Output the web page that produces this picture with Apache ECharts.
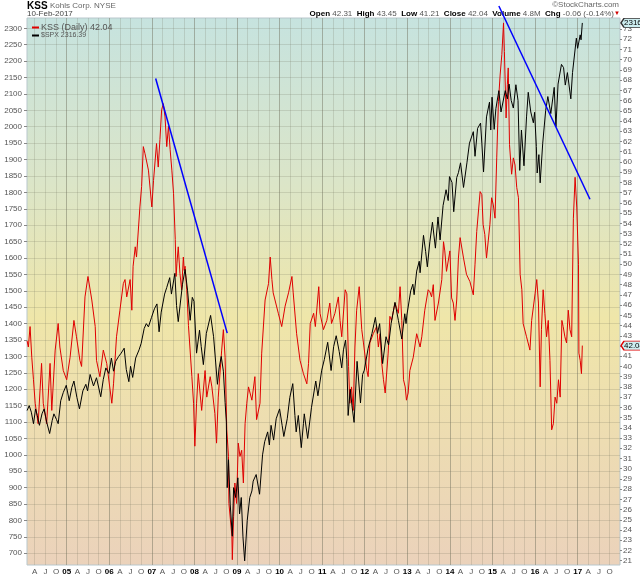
<!DOCTYPE html>
<html>
<head>
<meta charset="utf-8">
<script src="https://cdn.jsdelivr.net/npm/echarts@6/dist/echarts.min.js"></script>
<style>
html, body { margin: 0; padding: 0; background: #fff; }
#chart { width: 640px; height: 576px; }
</style>
</head>
<body>
<div id="chart"></div>
<script>
// time is in decimal years, KSS on the right scale, $SPX on the left
const kss = [
  [2004.07,42.5],[2004.10,41.9],[2004.14,43.9],[2004.18,40.9],[2004.22,38.7],[2004.26,36.4],[2004.33,34.4],
  [2004.41,40.3],[2004.45,36.4],[2004.53,34.4],[2004.61,40.3],[2004.65,35.7],[2004.73,41.6],[2004.80,44.2],
  [2004.84,41.9],[2004.92,39.6],[2005.00,38.7],[2005.08,40.9],[2005.17,44.5],[2005.23,42.9],[2005.31,40.6],
  [2005.35,40.0],[2005.43,46.8],[2005.50,48.8],[2005.59,46.5],[2005.67,43.9],[2005.70,40.6],[2005.78,39.0],
  [2005.86,41.6],[2005.94,40.3],[2006.02,37.7],[2006.06,36.4],[2006.10,38.3],[2006.17,42.9],[2006.25,45.5],
  [2006.33,48.1],[2006.37,48.5],[2006.41,46.8],[2006.49,48.5],[2006.53,45.5],[2006.56,49.8],[2006.61,51.7],
  [2006.64,50.7],[2006.72,55.6],[2006.76,57.6],[2006.80,61.5],[2006.84,60.8],[2006.92,59.2],[2007.00,55.6],
  [2007.04,58.2],[2007.11,61.8],[2007.15,59.5],[2007.19,62.2],[2007.23,65.1],[2007.27,65.7],[2007.31,64.4],
  [2007.35,61.5],[2007.39,63.5],[2007.43,61.2],[2007.47,59.2],[2007.51,56.9],[2007.55,52.4],[2007.57,48.8],
  [2007.59,50.1],[2007.62,51.7],[2007.66,49.1],[2007.70,47.5],[2007.74,50.7],[2007.76,49.4],[2007.78,49.8],
  [2007.82,47.5],[2007.86,44.0],[2007.94,39.0],[2007.98,36.4],[2008.01,32.2],[2008.05,36.4],[2008.09,39.3],
  [2008.17,35.7],[2008.25,39.6],[2008.29,37.0],[2008.37,39.0],[2008.41,38.0],[2008.48,35.4],[2008.52,32.5],
  [2008.56,37.0],[2008.64,41.6],[2008.68,43.6],[2008.72,40.9],[2008.76,33.8],[2008.80,31.2],[2008.81,26.6],
  [2008.88,23.4],[2008.89,21.1],[2008.92,25.3],[2008.95,28.6],[2008.99,26.6],[2009.03,32.5],[2009.07,31.2],
  [2009.11,31.8],[2009.15,28.6],[2009.19,34.4],[2009.23,36.4],[2009.27,38.0],[2009.35,36.7],[2009.42,39.0],
  [2009.46,34.8],[2009.54,36.4],[2009.58,41.3],[2009.66,46.5],[2009.74,48.1],[2009.78,50.7],[2009.82,48.5],
  [2009.85,47.2],[2009.97,45.2],[2010.05,43.9],[2010.13,45.9],[2010.21,47.2],[2010.29,48.8],[2010.32,47.2],
  [2010.40,43.2],[2010.48,40.6],[2010.56,39.3],[2010.64,38.3],[2010.68,40.3],[2010.72,44.2],[2010.80,45.2],
  [2010.84,43.9],[2010.92,47.8],[2010.95,45.2],[2011.03,43.6],[2011.11,44.5],[2011.18,46.2],[2011.22,44.2],
  [2011.30,45.2],[2011.38,46.8],[2011.42,44.5],[2011.46,42.9],[2011.54,47.5],[2011.58,47.1],[2011.62,40.0],
  [2011.65,36.4],[2011.69,38.0],[2011.73,35.7],[2011.77,41.9],[2011.81,45.5],[2011.87,47.8],[2011.93,43.6],
  [2011.97,42.3],[2012.05,39.6],[2012.08,39.0],[2012.12,42.3],[2012.20,43.2],[2012.28,43.9],[2012.32,41.9],
  [2012.36,43.2],[2012.40,40.3],[2012.44,38.7],[2012.48,37.4],[2012.55,41.3],[2012.59,44.9],[2012.63,44.5],
  [2012.71,46.2],[2012.79,45.2],[2012.83,47.8],[2012.87,44.5],[2012.91,38.7],[2012.95,38.0],[2012.98,36.7],
  [2013.02,37.4],[2013.06,39.6],[2013.14,40.9],[2013.22,43.2],[2013.30,41.9],[2013.34,42.9],[2013.41,45.5],
  [2013.49,47.5],[2013.53,47.3],[2013.57,46.8],[2013.61,48.0],[2013.65,44.5],[2013.73,46.2],[2013.81,48.5],
  [2013.85,52.2],[2013.88,51.3],[2013.92,49.3],[2014.00,51.3],[2014.04,46.7],[2014.08,46.2],[2014.12,44.5],
  [2014.16,46.5],[2014.20,50.6],[2014.24,52.6],[2014.32,50.6],[2014.39,49.0],[2014.47,48.3],[2014.55,47.0],
  [2014.59,50.0],[2014.63,53.2],[2014.71,57.1],[2014.75,56.8],[2014.78,53.9],[2014.82,52.9],[2014.86,50.6],
  [2014.94,53.9],[2014.98,56.5],[2015.02,55.8],[2015.06,54.5],[2015.10,60.4],[2015.14,65.9],[2015.18,68.5],
  [2015.22,70.5],[2015.26,73.6],[2015.28,70.8],[2015.32,64.3],[2015.35,67.6],[2015.37,69.2],[2015.40,61.7],
  [2015.45,58.8],[2015.49,60.4],[2015.53,59.7],[2015.57,57.5],[2015.61,56.5],[2015.65,49.0],[2015.69,47.5],
  [2015.72,44.2],[2015.80,42.9],[2015.88,41.6],[2015.92,44.5],[2016.00,47.1],[2016.04,48.5],[2016.08,46.2],
  [2016.12,38.0],[2016.15,43.6],[2016.19,47.5],[2016.23,45.2],[2016.27,42.9],[2016.31,44.5],[2016.35,40.6],
  [2016.39,33.8],[2016.43,34.4],[2016.47,37.0],[2016.51,36.4],[2016.55,38.7],[2016.59,37.0],[2016.63,44.5],
  [2016.66,43.9],[2016.70,42.9],[2016.74,42.3],[2016.78,45.5],[2016.82,43.6],[2016.86,42.9],[2016.90,54.5],
  [2016.94,58.5],[2016.98,55.5],[2017.02,50.0],[2017.03,41.3],[2017.06,40.6],[2017.09,39.3],[2017.11,42.04]
];

const spx = [
  [2004.07,1135],[2004.12,1150],[2004.17,1130],[2004.22,1095],[2004.27,1140],[2004.31,1120],[2004.36,1090],
  [2004.42,1125],[2004.47,1140],[2004.53,1100],[2004.60,1065],[2004.66,1105],[2004.70,1125],[2004.76,1108],
  [2004.80,1095],[2004.86,1165],[2004.92,1190],[2004.99,1212],[2005.06,1165],[2005.12,1205],[2005.17,1225],
  [2005.24,1175],[2005.30,1140],[2005.38,1195],[2005.45,1215],[2005.49,1195],[2005.55,1245],[2005.63,1210],
  [2005.70,1235],[2005.80,1177],[2005.86,1230],[2005.92,1265],[2005.99,1248],[2006.05,1295],[2006.10,1255],
  [2006.15,1285],[2006.22,1300],[2006.28,1310],[2006.35,1325],[2006.40,1260],[2006.46,1223],[2006.50,1270],
  [2006.55,1236],[2006.62,1295],[2006.70,1320],[2006.75,1340],[2006.82,1385],[2006.87,1400],[2006.92,1390],
  [2006.99,1418],[2007.06,1445],[2007.12,1460],[2007.17,1375],[2007.22,1435],[2007.30,1490],[2007.35,1510],
  [2007.42,1540],[2007.46,1490],[2007.54,1553],[2007.58,1455],[2007.62,1406],[2007.68,1475],[2007.72,1520],
  [2007.78,1565],[2007.84,1500],[2007.90,1410],[2007.95,1480],[2007.99,1468],[2008.05,1310],[2008.12,1380],
  [2008.16,1330],[2008.21,1275],[2008.28,1370],[2008.38,1425],[2008.45,1360],[2008.50,1280],[2008.54,1215],
  [2008.58,1265],[2008.63,1300],[2008.68,1255],[2008.72,1160],[2008.75,1100],[2008.77,900],[2008.80,985],
  [2008.84,850],[2008.89,752],[2008.92,900],[2008.97,870],[2009.02,930],[2009.06,820],[2009.10,870],
  [2009.14,750],[2009.18,677],[2009.24,800],[2009.30,870],[2009.35,890],[2009.38,920],[2009.45,940],
  [2009.53,880],[2009.60,1000],[2009.65,1040],[2009.72,1070],[2009.76,1030],[2009.80,1090],[2009.86,1045],
  [2009.92,1110],[2010.00,1140],[2010.06,1090],[2010.10,1056],[2010.18,1110],[2010.24,1175],[2010.31,1217],
  [2010.36,1120],[2010.39,1070],[2010.44,1120],[2010.51,1022],[2010.56,1095],[2010.58,1125],[2010.66,1050],
  [2010.75,1145],[2010.85,1225],[2010.90,1180],[2010.99,1258],[2011.05,1290],[2011.13,1343],[2011.21,1257],
  [2011.27,1330],[2011.33,1363],[2011.40,1315],[2011.46,1265],[2011.50,1320],[2011.55,1350],[2011.58,1290],
  [2011.61,1120],[2011.66,1200],[2011.70,1150],[2011.75,1099],[2011.82,1285],[2011.90,1158],[2011.95,1245],
  [2011.99,1258],[2012.08,1325],[2012.17,1370],[2012.25,1419],[2012.30,1370],[2012.35,1400],[2012.42,1278],
  [2012.50,1360],[2012.56,1335],[2012.62,1400],[2012.71,1465],[2012.79,1410],[2012.87,1353],[2012.94,1430],
  [2012.97,1400],[2012.99,1426],[2013.08,1500],[2013.13,1520],[2013.16,1488],[2013.22,1560],[2013.28,1590],
  [2013.30,1555],[2013.38,1669],[2013.43,1620],[2013.47,1573],[2013.53,1650],[2013.59,1709],[2013.66,1630],
  [2013.72,1725],[2013.77,1655],[2013.84,1760],[2013.91,1808],[2013.96,1775],[2013.99,1848],[2014.05,1830],
  [2014.09,1741],[2014.16,1845],[2014.20,1860],[2014.25,1890],[2014.32,1815],[2014.40,1890],[2014.46,1950],
  [2014.55,1985],[2014.59,1910],[2014.65,1995],[2014.72,2011],[2014.75,1950],[2014.79,1862],[2014.86,2030],
  [2014.93,2075],[2014.96,1990],[2014.99,2090],[2015.04,1992],[2015.08,2055],[2015.15,2110],[2015.20,2045],
  [2015.24,2040],[2015.30,2110],[2015.35,2085],[2015.39,2130],[2015.44,2080],[2015.49,2057],[2015.55,2128],
  [2015.60,2080],[2015.64,1867],[2015.68,1990],[2015.74,1881],[2015.80,2030],[2015.84,2105],[2015.90,2045],
  [2015.96,2012],[2015.99,2044],[2016.03,1940],[2016.05,1859],[2016.09,1915],[2016.12,1829],[2016.18,1950],
  [2016.25,2050],[2016.30,2092],[2016.37,2040],[2016.45,2120],[2016.49,2000],[2016.54,2130],[2016.62,2190],
  [2016.67,2180],[2016.71,2127],[2016.76,2165],[2016.84,2085],[2016.88,2165],[2016.97,2270],[2017.00,2239],
  [2017.06,2280],[2017.08,2265],[2017.11,2316.39]
];

// hand drawn trend lines, in $SPX units
const trend1 = [[2007.09, 2147], [2008.77, 1371]];
const trend2 = [[2015.15, 2368], [2017.29, 1779]];

const kssLast = 42.04;
const spxLast = 2316.39;

function range(a, b, step) {
  const out = [];
  for (let v = a; v <= b + 1e-9; v += step) out.push(+v.toFixed(2));
  return out;
}
const spxTicks = range(700, 2300, 50);
const kssTicks = range(21, 73, 1);
const quarterTicks = range(2004.25, 2017.75, 0.25);
const yearTicks = range(2005, 2017, 1);
const quarterNames = ['', 'A', 'J', 'O'];

const X_MIN = 2004.068, X_MAX = 2017.995;

const chart = echarts.init(document.getElementById('chart'));

const gridColor = 'rgba(110,110,90,0.2)';
const labelColor = '#555';
const font = 'Liberation Sans';

const tagShape = 'path://M0,5 L5,0 L40,0 L40,10 L5,10 Z';

const option = {
  animation: false,
  textStyle: { fontFamily: font },
  grid: {
    left: 27, right: 20, top: 18, bottom: 11,
    show: true,
    borderColor: '#b8c7cc',
    borderWidth: 1,
    backgroundColor: {
      type: 'linear', x: 0, y: 0, x2: 0, y2: 1,
      colorStops: [
        { offset: 0, color: '#c6e3df' },
        { offset: 0.3, color: '#dbe5c8' },
        { offset: 0.55, color: '#efe6a9' },
        { offset: 1, color: '#ebd2bb' }
      ]
    }
  },
  legend: {
    left: 27, top: 18, orient: 'vertical', itemGap: 0,
    itemWidth: 7, itemHeight: 2, icon: 'rect', selectedMode: false,
    textStyle: { color: labelColor, fontFamily: font, padding: [0, 0, 0, -3] },
    data: [
      { name: 'KSS (Daily) 42.04', textStyle: { fontSize: 9 } },
      { name: '$SPX 2316.39', textStyle: { fontSize: 7 } }
    ]
  },
  xAxis: [{
    type: 'value', min: X_MIN, max: X_MAX,
    axisLine: { show: false },
    axisTick: { show: false, customValues: quarterTicks },
    axisLabel: {
      customValues: quarterTicks,
      fontSize: 8, color: labelColor, margin: 3,
      formatter: function (v) {
        const y = Math.floor(v + 1e-6);
        const q = Math.round((v - y) * 4);
        if (q === 0) return '{y|' + String(y).slice(2) + '}';
        return quarterNames[q];
      },
      rich: { y: { fontWeight: 'bold', color: '#000', fontSize: 8 } }
    },
    splitLine: { show: true, lineStyle: { color: gridColor, width: 1 } }
  }, {
    type: 'value', min: X_MIN, max: X_MAX,
    axisLine: { show: false },
    axisTick: { show: false, customValues: yearTicks },
    axisLabel: { show: false, customValues: yearTicks },
    splitLine: { show: true, lineStyle: { color: 'rgba(110,110,90,0.32)', width: 1 } }
  }],
  yAxis: [{
    type: 'value', position: 'left', min: 664.3, max: 2331.4,
    axisLine: { show: false },
    axisTick: { show: true, customValues: spxTicks, length: 3, lineStyle: { color: '#888' } },
    axisLabel: {
      customValues: spxTicks, fontSize: 8, color: labelColor, margin: 5,
      formatter: function (v) { return String(v); }
    },
    splitLine: { show: true, lineStyle: { color: gridColor, width: 1 } }
  }, {
    type: 'value', position: 'right', min: 20.58, max: 74.08,
    axisLine: { show: false },
    axisTick: { show: true, customValues: kssTicks, length: 2, lineStyle: { color: '#888' } },
    axisLabel: { customValues: kssTicks, fontSize: 8, color: labelColor, margin: 3 },
    splitLine: { show: false }
  }],
  series: [{
    name: 'KSS (Daily) 42.04', type: 'line', yAxisIndex: 1,
    data: kss, showSymbol: false, symbol: 'none',
    lineStyle: { color: '#e00000', width: 1 }, itemStyle: { color: '#e00000' },
    z: 2,
    markPoint: {
      symbol: tagShape, symbolSize: [24, 9], symbolOffset: [13, 0],
      itemStyle: { color: '#cdeef0', borderColor: '#e00000', borderWidth: 1 },
      label: { show: true, fontSize: 8, color: '#000', offset: [1, 0], formatter: String(kssLast) },
      data: [{ coord: [X_MAX, kssLast] }]
    }
  }, {
    name: '$SPX 2316.39', type: 'line', yAxisIndex: 0,
    data: spx, showSymbol: false, symbol: 'none',
    lineStyle: { color: '#000', width: 1 }, itemStyle: { color: '#000' },
    z: 3,
    markPoint: {
      symbol: tagShape, symbolSize: [24, 9], symbolOffset: [13, 0],
      itemStyle: { color: '#cdeef0', borderColor: '#333', borderWidth: 1 },
      label: { show: true, fontSize: 8, color: '#000', offset: [1, 0], formatter: '2316.' },
      data: [{ coord: [X_MAX, spxLast] }]
    }
  }, {
    type: 'line', yAxisIndex: 0, data: trend1, symbol: 'none', clip: false, silent: true,
    lineStyle: { color: '#0000ff', width: 1.5 }, z: 4
  }, {
    type: 'line', yAxisIndex: 0, data: trend2, symbol: 'none', clip: false, silent: true,
    lineStyle: { color: '#0000ff', width: 1.5 }, z: 4
  }],
  graphic: [
    { type: 'text', left: 27, top: 1, style: { text: 'KSS', font: 'bold 10px ' + font, fill: '#000' } },
    { type: 'text', left: 50, top: 2, style: { text: 'Kohls Corp. NYSE', font: '8px ' + font, fill: '#666' } },
    { type: 'text', left: 27, top: 10, style: { text: '10-Feb-2017', font: '8px ' + font, fill: '#444' } },
    { type: 'text', right: 21, top: 1, style: { text: '\u00a9StockCharts.com', font: '8px ' + font, fill: '#666' } },
    {
      type: 'text', right: 26, top: 10,
      style: {
        text: '{b|Open} 42.31  {b|High} 43.45  {b|Low} 41.21  {b|Close} 42.04  {b|Volume} 4.8M  {b|Chg} -0.06 (-0.14%)',
        font: '8px ' + font, fill: '#555',
        rich: { b: { font: 'bold 8px ' + font, fill: '#000' } }
      }
    },
    { type: 'text', right: 20, top: 10, style: { text: '\u25bc', font: '6px ' + font, fill: '#d00000' } }
  ]
};

chart.setOption(option);
</script>
</body>
</html>
